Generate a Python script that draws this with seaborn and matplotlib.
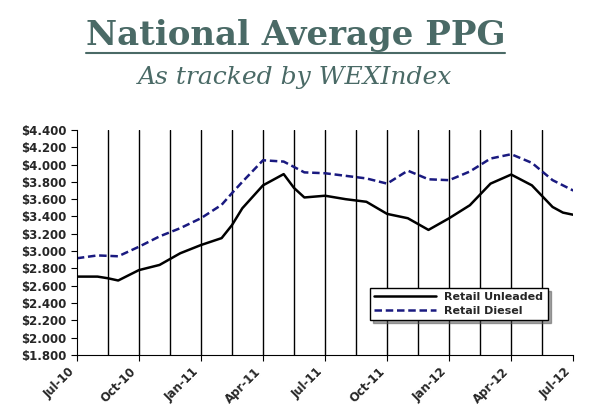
import matplotlib
matplotlib.use("Agg")
import matplotlib.pyplot as plt
import seaborn as sns
import pandas as pd
import numpy as np

months = [0,1,1.5,2,3,4,5,6,7,7.5,8,9,10,10.5,11,12,13,14,15,16,17,18,19,20,21,22,23,23.5,24]
unleaded = [2.705,2.705,2.686,2.66,2.78,2.84,2.975,3.07,3.15,3.30,3.495,3.76,3.89,3.73,3.62,3.64,3.60,3.57,3.43,3.38,3.245,3.38,3.53,3.78,3.885,3.76,3.51,3.445,3.42]
dmonths = [0,1,2,3,4,5,6,7,7.5,8,9,10,11,12,13,14,15,16,17,18,19,20,21,22,23,24]
diesel = [2.917,2.95,2.94,3.05,3.17,3.265,3.38,3.535,3.67,3.80,4.05,4.035,3.91,3.90,3.87,3.84,3.78,3.93,3.83,3.82,3.92,4.07,4.12,4.02,3.82,3.70]
tick_pos = [0,3,6,9,12,15,18,21,24]
tick_labels = ["Jul-10","Oct-10","Jan-11","Apr-11","Jul-11","Oct-11","Jan-12","Apr-12","Jul-12"]
yticks = [1.8,2.0,2.2,2.4,2.6,2.8,3.0,3.2,3.4,3.6,3.8,4.0,4.2,4.4]

sns.set_style("white")
plt.rcParams['font.family'] = ['DejaVu Sans']
fig = plt.figure(figsize=(5.91,4.18), dpi=100)
ax = fig.add_axes([0.130,0.151,0.840,0.538])

for g in np.arange(1.5,24,1.5):
    ax.axvline(g, color='black', lw=1, zorder=0)
sns.lineplot(x=months, y=unleaded, ax=ax, color='black', lw=1.8, label='Retail Unleaded')
sns.lineplot(x=dmonths, y=diesel, ax=ax, color='#1a1a80', lw=1.8, linestyle=(0,(3,1.5)), label='Retail Diesel')
ax.set_xlim(0,24); ax.set_ylim(1.8,4.4)
ax.set_xticks(tick_pos); ax.set_xticklabels(tick_labels, rotation=45, ha='right', fontweight='bold', fontsize=8.5)
ax.set_yticks(yticks); ax.set_yticklabels([f"${v:.3f}" for v in yticks], fontweight='bold', fontsize=8.5)
ax.tick_params(axis='both', length=4, direction='out', color='black', left=True, bottom=True)
for s in ['top','right']: ax.spines[s].set_visible(False)
for s in ['left','bottom']: ax.spines[s].set_color('black')
leg = ax.legend(loc='lower right', bbox_to_anchor=(0.96,0.13), frameon=True, fancybox=False, shadow=True,
                prop={'weight':'bold','size':8}, handlelength=5.5, borderpad=0.4, labelspacing=0.3)
leg.get_frame().set_edgecolor('black')

col = '#4a6a66'
t = fig.text(0.5, 0.915, "National Average PPG", ha='center', va='center', fontsize=24.5, fontweight='bold',
         family='DejaVu Serif', color=col)
fig.canvas.draw()
bb = t.get_window_extent().transformed(fig.transFigure.inverted())
fig.add_artist(plt.Line2D([bb.x0,bb.x1],[bb.y0-0.003,bb.y0-0.003], color=col, lw=1.5))
fig.text(0.5, 0.815, "As tracked by WEXIndex", ha='center', va='center', fontsize=18, style='italic',
         family='DejaVu Serif', color=col)
fig.savefig("out.png", dpi=100)
